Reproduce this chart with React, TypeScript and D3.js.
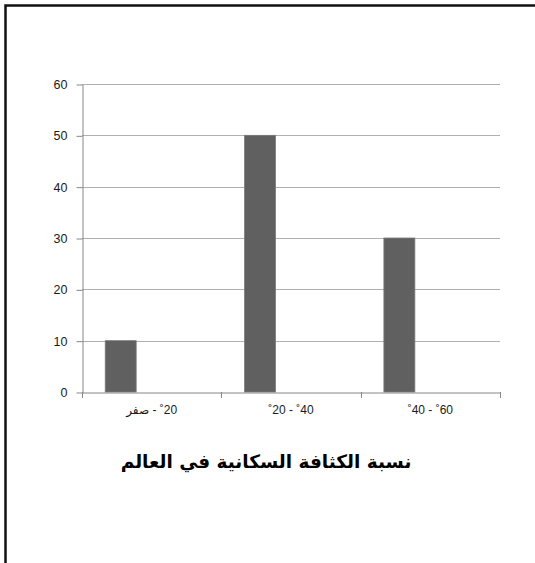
import { useEffect, useRef } from 'react';
import * as d3 from 'd3';

// categories, as they read left to right
const categories = ['صفر\u200E - ˚20', '˚20 - ˚40', '˚40 - ˚60'];
// only the first series holds values; the other two are empty in the sheet
const seriesNames = ['s1', 's2', 's3'];
const series1 = [10, 50, 30];
const yTicks = [0, 10, 20, 30, 40, 50, 60];
const title = 'نسبة الكثافة السكانية في العالم';

const App = () => {
  const ref = useRef<HTMLDivElement>(null);
  useEffect(() => {
    const width = 535;
    const height = 563;
    const marginLeft = 82;
    const marginRight = 35;
    const marginTop = 84;
    const plotBottom = 392;

    const svg = d3.create('svg')
      .attr('width', width)
      .attr('height', height)
      .attr('viewBox', [0, 0, width, height])
      .attr('style', 'position:absolute;left:0;top:0;background:#fff;font-family:"Liberation Sans",Arial,sans-serif;');

    // outer frame (only top and left edges visible in the crop)
    svg.append('rect')
      .attr('x', 5.5)
      .attr('y', 5.5)
      .attr('width', 700)
      .attr('height', 700)
      .attr('fill', 'none')
      .attr('stroke', '#111')
      .attr('stroke-width', 2.5);

    const x0 = d3.scaleBand<string>()
      .domain(categories)
      .range([marginLeft, width - marginRight])
      .paddingInner(0)
      .paddingOuter(0);

    // three series slots per category, gap width 150%
    const x1 = d3.scaleBand<string>()
      .domain(seriesNames)
      .range([0, x0.bandwidth()])
      .paddingInner(0)
      .paddingOuter(0.75);

    const y = d3.scaleLinear()
      .domain([0, 60])
      .range([plotBottom, marginTop]);

    // gridlines
    svg.append('g')
      .selectAll('line')
      .data(yTicks.filter((d) => d > 0))
      .join('line')
      .attr('x1', marginLeft)
      .attr('x2', width - marginRight)
      .attr('y1', (d) => Math.round(y(d)) + 0.5)
      .attr('y2', (d) => Math.round(y(d)) + 0.5)
      .attr('stroke', '#b0b0b0')
      .attr('stroke-width', 1);

    // bars
    svg.append('g')
      .selectAll('rect')
      .data(series1)
      .join('rect')
      .attr('x', (d, i) => x0(categories[i])! + x1('s1')!)
      .attr('width', x1.bandwidth())
      .attr('y', (d) => y(d))
      .attr('height', (d) => y(0) - y(d))
      .attr('fill', '#606060')
      .attr('stroke', '#7a7a7a')
      .attr('stroke-width', 0.8);

    // y axis
    const yAxis = svg.append('g')
      .attr('transform', `translate(${marginLeft + 0.5},0.5)`)
      .call(d3.axisLeft(y).tickValues(yTicks).tickSize(6).tickPadding(9).tickSizeOuter(0));
    yAxis.select('.domain').attr('stroke', '#868686');
    yAxis.selectAll('.tick line').attr('stroke', '#868686');
    yAxis.selectAll('.tick text')
      .attr('fill', '#1a1a1a')
      .attr('font-size', 12.5)
      .attr('font-family', '"Liberation Sans",Arial,sans-serif');

    // x axis
    const xAxis = svg.append('g')
      .attr('transform', `translate(0,${Math.round(plotBottom) + 0.5})`)
      .call(d3.axisBottom(x0).tickSize(0).tickSizeOuter(0).tickPadding(13));
    xAxis.select('.domain').attr('stroke', '#868686');
    xAxis.selectAll('.tick text')
      .attr('fill', '#1a1a1a')
      .attr('font-size', 12)
      .attr('direction', 'ltr')
      .attr('font-family', '"Liberation Sans","DejaVu Sans",Arial,sans-serif');

    // category separator ticks
    const bounds = [...categories.map((c) => x0(c)!), width - marginRight];
    svg.append('g')
      .selectAll('line')
      .data(bounds)
      .join('line')
      .attr('x1', (d) => Math.round(d) + 0.5)
      .attr('x2', (d) => Math.round(d) + 0.5)
      .attr('y1', plotBottom)
      .attr('y2', plotBottom + 6)
      .attr('stroke', '#868686');

    // title
    svg.append('text')
      .attr('x', 266)
      .attr('y', 468)
      .attr('text-anchor', 'middle')
      .attr('direction', 'rtl')
      .attr('font-family', '"DejaVu Sans",sans-serif')
      .attr('font-weight', 'bold')
      .attr('font-size', 18.5)
      .attr('fill', '#000')
      .text(title);

    const node = svg.node()!;
    ref.current?.append(node);
    return () => {
      node.remove();
    };
  });
  return <div ref={ref}></div>;
};

export default App;
